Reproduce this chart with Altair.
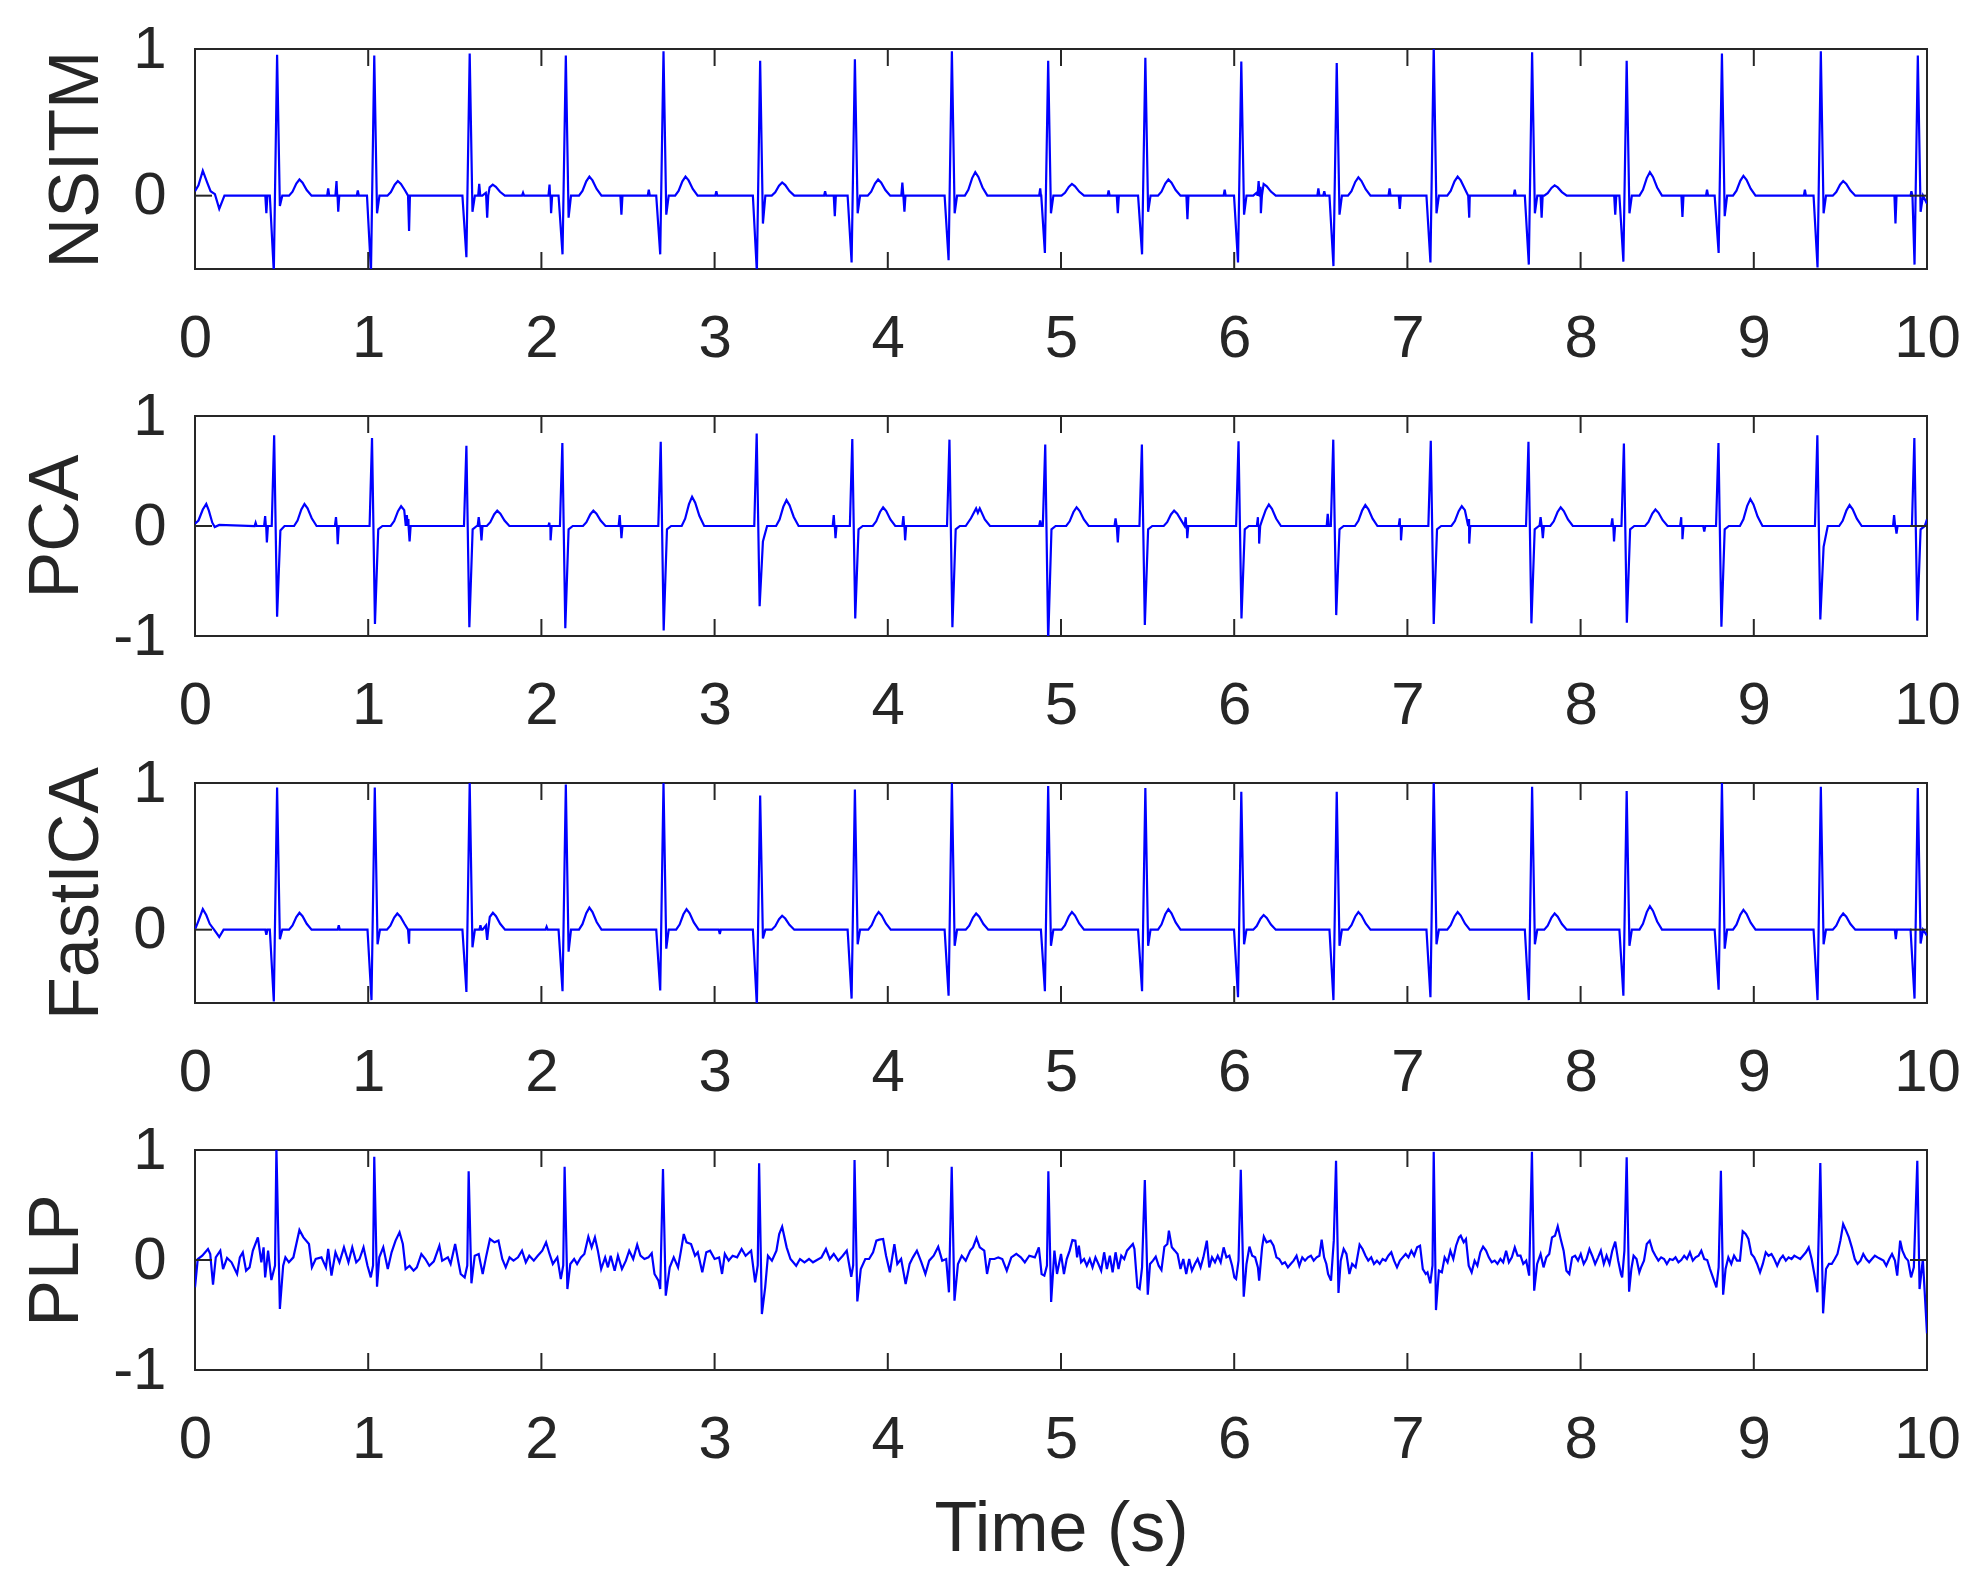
import altair as alt
import pandas as pd

X_TICKS = [0, 1, 2, 3, 4, 5, 6, 7, 8, 9, 10]

# ---------------- NSITM (trough then R peak) ----------------
nsitm_r_t = [0.474, 1.035, 1.586, 2.141, 2.705, 3.263, 3.810, 4.370, 4.926, 5.487, 6.041, 6.592, 7.152, 7.720, 8.266, 8.816, 9.387, 9.947]
nsitm_r_v = [0.96, 0.955, 0.97, 0.955, 0.985, 0.92, 0.93, 0.985, 0.92, 0.94, 0.915, 0.905, 1.02, 0.977, 0.92, 0.97, 0.985, 0.955]
nsitm_q_v = [-0.52, -0.52, -0.42, -0.40, -0.40, -0.52, -0.455, -0.44, -0.39, -0.40, -0.455, -0.48, -0.455, -0.47, -0.45, -0.39, -0.49, -0.47]
nsitm_s_v = [-0.07, -0.12, -0.11, -0.15, -0.13, -0.19, -0.12, -0.12, -0.12, -0.11, -0.13, -0.13, -0.12, -0.12, -0.12, -0.14, -0.12, -0.11]
nsitm_tw_t = [0.603, 1.171, 1.719, 2.277, 2.832, 3.390, 3.944, 4.505, 5.063, 5.620, 6.170, 6.717, 7.290, 7.850, 8.400, 8.940, 9.516]
nsitm_tw_v = [0.11, 0.10, 0.075, 0.13, 0.13, 0.09, 0.11, 0.16, 0.08, 0.11, 0.08, 0.125, 0.13, 0.07, 0.16, 0.135, 0.10]
nsitm_sp_t = [0.412, 0.769, 0.817, 0.827, 0.940, 1.236, 1.641, 1.687, 1.894, 2.047, 2.056, 2.462, 2.620, 3.010, 3.638, 3.694, 4.084, 4.096, 4.880,
              5.275, 5.328, 5.730, 5.945, 6.141, 6.154, 6.486, 6.520, 6.897, 6.956, 7.357, 7.620, 7.775, 8.200, 8.588, 8.730, 9.295, 9.818, 9.910]
nsitm_sp_v = [-0.12, 0.05, 0.10, -0.11, 0.035, -0.24, 0.08, -0.15, 0.02, 0.075, -0.12, -0.13, 0.04, 0.03, 0.03, -0.14, 0.09, -0.11, 0.05,
              0.035, -0.12, -0.16, 0.04, 0.10, -0.12, 0.05, 0.03, 0.05, -0.09, -0.15, 0.04, -0.15, -0.13, -0.145, 0.04, 0.04, -0.19, 0.03]
nsitm_raw_t = [0.0, 0.02, 0.045, 0.07, 0.09, 0.115, 0.14, 0.17, 10.0]
nsitm_raw_v = [0.03, 0.07, 0.17, 0.09, 0.03, 0.01, -0.09, 0.0, -0.055]

# ---------------- PCA (R peak then deep S) ----------------
pca_r_t = [0.457, 1.022, 1.567, 2.121, 2.689, 3.243, 3.795, 4.356, 4.909, 5.467, 6.025, 6.572, 7.135, 7.699, 8.250, 8.796, 9.367, 9.927]
pca_r_v = [0.825, 0.80, 0.73, 0.755, 0.765, 0.84, 0.79, 0.785, 0.74, 0.74, 0.77, 0.785, 0.775, 0.765, 0.75, 0.755, 0.825, 0.80]
pca_s_v = [-0.825, -0.89, -0.92, -0.93, -0.95, -0.73, -0.84, -0.92, -1.05, -0.90, -0.84, -0.81, -0.89, -0.885, -0.88, -0.915, -0.85, -0.86]
pca_p_v = [-0.04, -0.03, -0.03, -0.03, -0.03, -0.14, -0.03, -0.03, -0.03, -0.03, -0.03, -0.03, -0.03, -0.03, -0.03, -0.03, -0.19, -0.03]
pca_tw_t = [0.632, 1.190, 1.745, 2.300, 2.870, 3.415, 3.973, 5.090, 5.653, 6.200, 6.757, 7.314, 7.885, 8.432, 8.980, 9.553]
pca_tw_v = [0.20, 0.18, 0.14, 0.14, 0.265, 0.235, 0.17, 0.17, 0.14, 0.195, 0.19, 0.18, 0.17, 0.15, 0.245, 0.19]
pca_sp_t = [0.350, 0.405, 0.415, 0.814, 0.824, 1.223, 1.239, 1.638, 1.654, 2.046, 2.053, 2.452, 2.462, 3.688, 3.698, 4.090, 4.100, 4.880,
            5.315, 5.328, 5.720, 5.729, 6.137, 6.144, 6.540, 6.956, 6.963, 7.357, 7.769, 7.782, 8.183, 8.193, 8.581, 8.588, 8.714, 9.810, 9.824]
pca_sp_v = [0.03, 0.09, -0.15, 0.08, -0.165, 0.10, -0.14, 0.08, -0.13, 0.03, -0.13, 0.10, -0.11, 0.10, -0.11, 0.09, -0.13, 0.05,
            0.07, -0.15, 0.08, -0.11, 0.08, -0.16, 0.11, 0.07, -0.13, -0.16, 0.08, -0.11, 0.07, -0.14, 0.08, -0.12, -0.05, 0.10, -0.07]
pca_raw_t = [0.0, 0.02, 0.045, 0.065, 0.08, 0.10, 0.114, 0.14, 4.45, 4.48, 4.51, 4.52, 4.531, 4.56, 4.59, 10.0]
pca_raw_v = [0.02, 0.05, 0.15, 0.20, 0.14, 0.03, -0.01, 0.01, 0.0, 0.07, 0.16, 0.12, 0.16, 0.06, 0.0, 0.06]

# ---------------- FastICA (trough then R peak) ----------------
ica_r_t = [0.474, 1.038, 1.586, 2.141, 2.705, 3.263, 3.810, 4.370, 4.926, 5.487, 6.041, 6.592, 7.152, 7.720, 8.266, 8.816, 9.387, 9.947]
ica_r_v = [0.97, 0.97, 1.0, 0.99, 1.0, 0.915, 0.955, 1.0, 0.98, 0.965, 0.94, 0.94, 1.02, 0.975, 0.945, 1.0, 0.975, 0.965]
ica_q_v = [-0.49, -0.48, -0.425, -0.42, -0.415, -0.52, -0.47, -0.45, -0.42, -0.42, -0.46, -0.48, -0.46, -0.48, -0.45, -0.41, -0.48, -0.47]
ica_s_v = [-0.065, -0.10, -0.12, -0.15, -0.13, -0.06, -0.10, -0.11, -0.11, -0.11, -0.10, -0.11, -0.10, -0.10, -0.11, -0.13, -0.10, -0.095]
ica_tw_t = [0.603, 1.168, 1.720, 2.277, 2.838, 3.390, 3.947, 4.510, 5.063, 5.620, 6.170, 6.717, 7.290, 7.850, 8.400, 8.940, 9.516]
ica_tw_v = [0.115, 0.11, 0.115, 0.15, 0.14, 0.095, 0.12, 0.11, 0.12, 0.14, 0.10, 0.12, 0.12, 0.11, 0.16, 0.135, 0.11]
ica_sp_t = [0.412, 0.830, 1.236, 1.648, 1.687, 2.030, 3.030, 9.820]
ica_sp_v = [-0.035, 0.03, -0.095, 0.03, -0.07, 0.02, -0.03, -0.065]
ica_raw_t = [0.0, 0.02, 0.045, 0.065, 0.085, 0.11, 0.14, 0.165, 10.0]
ica_raw_v = [0.0, 0.06, 0.14, 0.10, 0.04, 0.0, -0.05, 0.0, -0.04]

# ---------------- PLP (noisy, read point by point) ----------------
plp_t = [0.000, 0.016, 0.042, 0.075, 0.088, 0.104, 0.120, 0.146, 0.162, 0.185, 0.211, 0.243, 0.259, 0.276, 0.295, 0.315, 0.334, 0.363, 0.383, 0.396,
         0.405, 0.422, 0.441, 0.462, 0.470, 0.490, 0.509, 0.522, 0.542, 0.568, 0.603, 0.626, 0.658, 0.675, 0.697, 0.730, 0.756, 0.769, 0.788, 0.811,
         0.834, 0.860, 0.886, 0.908, 0.931, 0.950, 0.973, 0.996, 1.015, 1.028, 1.035, 1.051, 1.064, 1.087, 1.113, 1.135, 1.158, 1.181, 1.200, 1.216,
         1.239, 1.262, 1.281, 1.307, 1.330, 1.353, 1.379, 1.411, 1.427, 1.460, 1.476, 1.502, 1.521, 1.534, 1.557, 1.572, 1.580, 1.596, 1.615, 1.638,
         1.661, 1.680, 1.703, 1.729, 1.752, 1.774, 1.794, 1.816, 1.839, 1.865, 1.888, 1.910, 1.930, 1.956, 1.979, 2.005, 2.027, 2.047, 2.066, 2.092,
         2.112, 2.126, 2.134, 2.150, 2.167, 2.189, 2.206, 2.228, 2.248, 2.271, 2.290, 2.309, 2.326, 2.345, 2.368, 2.384, 2.400, 2.423, 2.442, 2.465,
         2.488, 2.507, 2.530, 2.553, 2.572, 2.595, 2.618, 2.637, 2.653, 2.676, 2.686, 2.702, 2.718, 2.741, 2.764, 2.789, 2.806, 2.822, 2.838, 2.864,
         2.887, 2.903, 2.929, 2.952, 2.974, 3.000, 3.026, 3.043, 3.059, 3.081, 3.104, 3.130, 3.156, 3.179, 3.211, 3.234, 3.249, 3.257, 3.273, 3.292,
         3.308, 3.331, 3.357, 3.373, 3.390, 3.416, 3.438, 3.471, 3.493, 3.519, 3.545, 3.568, 3.591, 3.617, 3.643, 3.665, 3.688, 3.714, 3.740, 3.763,
         3.789, 3.800, 3.808, 3.824, 3.844, 3.870, 3.892, 3.915, 3.934, 3.951, 3.973, 3.990, 4.012, 4.038, 4.055, 4.077, 4.103, 4.126, 4.145, 4.168,
         4.194, 4.217, 4.239, 4.265, 4.291, 4.314, 4.337, 4.353, 4.369, 4.385, 4.405, 4.427, 4.450, 4.476, 4.492, 4.512, 4.531, 4.557, 4.573, 4.590,
         4.616, 4.638, 4.661, 4.687, 4.713, 4.742, 4.768, 4.791, 4.817, 4.849, 4.872, 4.888, 4.904, 4.919, 4.927, 4.943, 4.962, 4.977,
         5.000, 5.017, 5.033, 5.050, 5.066, 5.083, 5.093, 5.103, 5.116, 5.133, 5.149, 5.166, 5.182, 5.199, 5.216, 5.232, 5.249, 5.265, 5.282, 5.298,
         5.315, 5.332, 5.348, 5.365, 5.381, 5.398, 5.415, 5.424, 5.441, 5.454, 5.468, 5.484, 5.501, 5.514, 5.531, 5.547, 5.564, 5.580, 5.597, 5.614,
         5.623, 5.640, 5.657, 5.673, 5.690, 5.706, 5.723, 5.740, 5.756, 5.773, 5.789, 5.806, 5.822, 5.842, 5.856, 5.872, 5.889, 5.905, 5.922, 5.939,
         5.955, 5.972, 5.988, 6.001, 6.011, 6.025, 6.038, 6.055, 6.071, 6.088, 6.104, 6.121, 6.137, 6.144, 6.161, 6.171, 6.187, 6.210, 6.227, 6.244,
         6.260, 6.277, 6.293, 6.310, 6.326, 6.343, 6.360, 6.376, 6.393, 6.409, 6.426, 6.443, 6.459, 6.476, 6.492, 6.505, 6.519, 6.532, 6.542, 6.559,
         6.575, 6.588, 6.602, 6.615, 6.632, 6.648, 6.665, 6.681, 6.701, 6.724, 6.741, 6.758, 6.774, 6.791, 6.807, 6.824, 6.840, 6.857, 6.874, 6.890,
         6.907, 6.923, 6.940, 6.957, 6.973, 6.990, 7.006, 7.023, 7.039, 7.056, 7.073, 7.089, 7.106, 7.116, 7.132, 7.145, 7.152, 7.165, 7.182, 7.199,
         7.215, 7.232, 7.248, 7.265, 7.281, 7.298, 7.308, 7.325, 7.338, 7.354, 7.371, 7.388, 7.404, 7.421, 7.437, 7.454, 7.470, 7.487, 7.504, 7.520,
         7.537, 7.553, 7.570, 7.586, 7.603, 7.620, 7.636, 7.653, 7.669, 7.686, 7.703, 7.719, 7.732, 7.749, 7.769, 7.786, 7.802, 7.819, 7.835, 7.852,
         7.868, 7.885, 7.902, 7.918, 7.935, 7.951, 7.968, 7.985, 8.001, 8.018, 8.034, 8.051, 8.067, 8.084, 8.101, 8.117, 8.134, 8.150, 8.167, 8.183,
         8.200, 8.217, 8.233, 8.240, 8.253, 8.266, 8.280, 8.293, 8.306, 8.323, 8.339, 8.349, 8.366, 8.382, 8.399, 8.416, 8.432, 8.449, 8.465, 8.482,
         8.498, 8.515, 8.532, 8.548, 8.565, 8.581, 8.598, 8.614, 8.631, 8.648, 8.664, 8.681, 8.697, 8.714, 8.731, 8.747, 8.764, 8.784, 8.797, 8.810,
         8.823, 8.837, 8.853, 8.870, 8.886, 8.903, 8.920, 8.936, 8.953, 8.969, 8.986, 9.002, 9.019, 9.036, 9.052, 9.069, 9.085, 9.102, 9.118, 9.135,
         9.152, 9.168, 9.185, 9.201, 9.218, 9.234, 9.251, 9.268, 9.284, 9.301, 9.317, 9.334, 9.351, 9.367, 9.384, 9.400, 9.417, 9.434, 9.450, 9.467,
         9.483, 9.500, 9.516, 9.533, 9.549, 9.566, 9.583, 9.599, 9.616, 9.632, 9.649, 9.666, 9.682, 9.699, 9.715, 9.732, 9.749, 9.765, 9.782, 9.798,
         9.815, 9.828, 9.845, 9.858, 9.875, 9.891, 9.908, 9.924, 9.944, 9.957, 9.976, 10.000]
plp_v = [-0.248, 0.009, 0.039, 0.100, 0.055, -0.224, 0.024, 0.085, -0.082, 0.018, -0.021, -0.127, 0.024, 0.070, -0.097, -0.067, 0.085, 0.206, -0.021, 0.115,
         -0.158, 0.085, -0.182, -0.050, 1.020, -0.445, -0.052, 0.024, -0.021, 0.024, 0.273, 0.206, 0.145, -0.067, 0.009, 0.024, -0.067, 0.100, -0.142, 0.070,
         -0.021, 0.115, -0.021, 0.115, -0.021, 0.009, 0.115, -0.052, -0.158, -0.050, 0.939, -0.242, 0.024, 0.115, -0.082, 0.070, 0.176, 0.252, 0.145, -0.082,
         -0.052, -0.097, -0.067, 0.055, 0.009, -0.052, -0.012, 0.130, -0.006, 0.024, -0.036, 0.145, -0.021, -0.127, -0.158, -0.050, 0.806, -0.212, 0.039, 0.055,
         -0.127, 0.024, 0.191, 0.161, 0.176, 0.009, -0.067, 0.024, -0.006, 0.024, 0.085, -0.021, 0.039, -0.006, 0.039, 0.085, 0.161, 0.055, -0.036, 0.024,
         -0.173, -0.050, 0.848, -0.264, -0.036, 0.009, -0.036, 0.024, 0.055, 0.212, 0.115, 0.206, 0.085, -0.082, 0.024, -0.067, 0.039, -0.097, 0.039, -0.082,
         -0.006, 0.085, 0.009, 0.139, 0.039, 0.009, 0.024, 0.061, -0.127, -0.188, -0.264, 0.827, -0.324, -0.067, 0.024, -0.067, 0.085, 0.236, 0.161, 0.145,
         0.039, 0.070, -0.112, 0.070, 0.085, 0.009, 0.024, -0.127, 0.055, -0.006, 0.039, 0.024, 0.100, 0.039, 0.085, -0.203, -0.050, 0.879, -0.491, -0.248,
         0.039, -0.006, 0.085, 0.236, 0.303, 0.115, 0.009, -0.052, 0.009, -0.021, 0.009, -0.021, 0.000, 0.024, 0.100, 0.009, 0.055, -0.006, 0.039, 0.085,
         -0.152, -0.050, 0.909, -0.376, -0.082, 0.009, 0.009, 0.070, 0.176, 0.185, 0.191, 0.039, -0.112, 0.145, -0.036, 0.009, -0.218, -0.036, 0.024, 0.085,
         -0.021, -0.127, -0.006, 0.039, 0.121, -0.006, 0.009, -0.294, 0.848, -0.370, -0.036, 0.039, -0.006, 0.085, 0.115, 0.200, 0.115, 0.085, -0.127, 0.009,
         0.009, 0.024, 0.009, -0.097, 0.024, 0.055, 0.024, -0.021, 0.039, 0.024, 0.115, -0.127, -0.142, -0.050, 0.806, -0.382, 0.085, -0.127,
         0.055, -0.127, 0.009, 0.085, 0.182, 0.176, 0.024, 0.130, -0.021, 0.009, -0.052, 0.009, -0.067, 0.024, -0.036, -0.097, 0.070, -0.082, 0.039, -0.112,
         0.070, -0.082, 0.039, 0.009, 0.085, 0.115, 0.145, 0.100, -0.248, -0.264, -0.067, 0.727, -0.315, -0.036, -0.006, 0.030, -0.052, -0.091, 0.121, 0.145,
         0.267, 0.115, 0.085, 0.055, -0.082, 0.009, -0.127, 0.009, -0.097, -0.036, 0.009, -0.067, 0.024, 0.176, -0.067, 0.024, -0.021, 0.039, -0.021, 0.115,
         0.024, 0.039, -0.052, -0.158, -0.173, -0.006, 0.821, -0.333, -0.036, 0.121, 0.039, 0.024, -0.067, -0.188, 0.115, 0.212, 0.161, 0.176, 0.130, 0.024,
         0.009, -0.036, -0.021, -0.067, -0.036, -0.006, 0.039, -0.052, 0.024, -0.006, 0.024, 0.039, -0.006, 0.024, 0.039, 0.185, 0.024, -0.036, -0.127, -0.188,
         0.176, 0.903, -0.300, -0.006, 0.100, 0.055, -0.127, -0.036, -0.067, 0.139, 0.100, 0.039, -0.006, 0.024, -0.036, -0.006, -0.036, 0.009, -0.006, 0.039,
         0.070, -0.006, -0.067, -0.006, 0.024, 0.055, 0.024, 0.085, 0.039, 0.115, 0.130, -0.082, -0.127, -0.112, -0.212, -0.050, 0.985, -0.455, -0.097, -0.112,
         0.024, -0.021, 0.085, 0.009, 0.130, 0.206, 0.221, 0.161, 0.191, -0.052, -0.112, -0.006, -0.052, 0.070, 0.121, 0.085, 0.024, -0.021, -0.006, -0.036,
         0.009, -0.021, 0.085, -0.021, 0.024, 0.115, 0.039, 0.039, -0.036, -0.006, -0.142, 0.985, -0.279, -0.036, 0.055, -0.067, 0.024, 0.055, 0.206, 0.221,
         0.306, 0.191, 0.085, -0.097, -0.127, 0.024, 0.039, -0.006, 0.055, -0.036, 0.009, 0.100, 0.039, -0.036, 0.024, 0.085, -0.036, 0.039, -0.036, 0.085,
         0.167, -0.006, -0.127, -0.158, 0.085, 0.933, -0.288, -0.082, 0.039, 0.009, -0.112, -0.067, -0.006, 0.145, 0.176, 0.085, 0.039, -0.006, 0.024, 0.009,
         -0.036, 0.009, 0.000, 0.024, -0.021, 0.000, 0.039, 0.009, 0.070, -0.006, 0.024, 0.039, 0.085, 0.009, 0.000, -0.082, -0.158, -0.248, -0.067, 0.812,
         -0.315, -0.082, 0.024, -0.036, 0.039, -0.006, -0.006, 0.261, 0.236, 0.191, 0.055, 0.024, -0.036, -0.112, -0.036, 0.070, 0.039, 0.055, 0.009, -0.052,
         0.009, 0.039, -0.006, 0.024, 0.009, 0.039, 0.024, 0.009, 0.039, 0.070, 0.115, 0.009, -0.142, -0.294, 0.882, -0.485, -0.082, -0.036, -0.036, 0.009,
         0.055, 0.176, 0.327, 0.267, 0.206, 0.115, 0.009, -0.036, -0.006, 0.055, 0.009, -0.021, 0.009, 0.039, 0.024, 0.009, -0.006, -0.052, 0.009, 0.055,
         -0.006, -0.142, 0.176, 0.085, 0.024, -0.006, -0.158, -0.067, 0.903, -0.264, 0.009, -0.667]


def build_qrs(r_t, r_v, q_v, s_v, tw_t, tw_v, sp_t, sp_v, raw_t, raw_v, kind):
    pts = []
    for r, a, b, c in zip(r_t, r_v, q_v, s_v):
        if kind == "qr":
            pts += [(r - 0.042, 0.0), (r - 0.019, b), (r, a), (r + 0.016, c), (r + 0.030, 0.0)]
        else:
            pts += [(r - 0.014, 0.0), (r, a), (r + 0.017, b), (r + 0.036, c), (r + 0.060, 0.0)]
    for tt, tv in zip(tw_t, tw_v):
        pts += [(tt - 0.060, 0.0), (tt - 0.040, 0.25 * tv), (tt - 0.018, 0.75 * tv), (tt, tv),
                (tt + 0.018, 0.8 * tv), (tt + 0.042, 0.35 * tv), (tt + 0.070, 0.0)]
    for st, sv in zip(sp_t, sp_v):
        pts += [(st - 0.006, 0.0), (st, sv), (st + 0.006, 0.0)]
    pts += list(zip(raw_t, raw_v))
    pts = [p for p in pts if 0.0 <= p[0] <= 10.0]
    pts.sort()
    return pd.DataFrame(pts, columns=["t", "v"])


df_nsitm = build_qrs(nsitm_r_t, nsitm_r_v, nsitm_q_v, nsitm_s_v, nsitm_tw_t, nsitm_tw_v,
                     nsitm_sp_t, nsitm_sp_v, nsitm_raw_t, nsitm_raw_v, "qr")
df_pca = build_qrs(pca_r_t, pca_r_v, pca_s_v, pca_p_v, pca_tw_t, pca_tw_v,
                   pca_sp_t, pca_sp_v, pca_raw_t, pca_raw_v, "rs")
df_ica = build_qrs(ica_r_t, ica_r_v, ica_q_v, ica_s_v, ica_tw_t, ica_tw_v,
                   ica_sp_t, ica_sp_v, ica_raw_t, ica_raw_v, "qr")
df_plp = pd.DataFrame({"t": plp_t, "v": plp_v})

W, H = 1732, 220
INK = "#262626"
FONT = "Liberation Sans"
TL = 17


def panel(df, ydom, yvals, ytitle, xtitle):
    xaxis = alt.Axis(values=X_TICKS, labelFlush=False, labelOverlap=False, labelPadding=40,
                     tickSize=0, ticks=False, domain=False, grid=False, title=xtitle,
                     titlePadding=26, labelExpr="format(datum.value, 'd')")
    yaxis = alt.Axis(values=yvals, labelFlush=False, labelOverlap=False, labelPadding=29,
                     tickSize=0, ticks=False, domain=False, grid=False, title=ytitle,
                     titlePadding=20,
                     labelExpr="datum.value < 0 ? '-' + format(abs(datum.value), 'd') : format(datum.value, 'd')")
    xs = alt.Scale(domain=[0, 10], nice=False, zero=False)
    ys = alt.Scale(domain=ydom, nice=False, zero=False)
    line = alt.Chart(df).mark_line(color="#0000ff", strokeWidth=2.2, clip=True).encode(
        x=alt.X("t:Q", scale=xs, axis=xaxis),
        y=alt.Y("v:Q", scale=ys, axis=yaxis),
    )
    xt = pd.DataFrame({"t": X_TICKS})
    yt = pd.DataFrame({"v": yvals})
    bot = alt.Chart(xt).mark_rule(color=INK, strokeWidth=2).encode(
        x=alt.X("t:Q", scale=xs, axis=xaxis), y=alt.value(H), y2=alt.value(H - TL))
    top = alt.Chart(xt).mark_rule(color=INK, strokeWidth=2).encode(
        x=alt.X("t:Q", scale=xs, axis=xaxis), y=alt.value(0), y2=alt.value(TL))
    left = alt.Chart(yt).mark_rule(color=INK, strokeWidth=2).encode(
        y=alt.Y("v:Q", scale=ys, axis=yaxis), x=alt.value(0), x2=alt.value(TL))
    right = alt.Chart(yt).mark_rule(color=INK, strokeWidth=2).encode(
        y=alt.Y("v:Q", scale=ys, axis=yaxis), x=alt.value(W), x2=alt.value(W - TL))
    return alt.layer(line, bot, top, left, right).properties(width=W, height=H)


p1 = panel(df_nsitm, [-0.5, 1], [0, 1], "NSITM", None)
p2 = panel(df_pca, [-1, 1], [-1, 0, 1], "PCA", None)
p3 = panel(df_ica, [-0.5, 1], [0, 1], "FastICA", None)
p4 = panel(df_plp, [-1, 1], [-1, 0, 1], "PLP", "Time (s)")

chart = alt.vconcat(p1, p2, p3, p4, spacing=147, bounds="flush").properties(
    padding={"left": 12, "top": 10, "right": 5, "bottom": 5},
    background="white",
).configure_view(
    stroke=INK, strokeWidth=2
).configure_axis(
    labelFont=FONT, labelFontSize=60, labelColor=INK,
    titleFont=FONT, titleFontSize=70, titleColor=INK, titleFontWeight="normal"
)

chart.save("out.html", embed_options={"renderer": "svg", "actions": False})
